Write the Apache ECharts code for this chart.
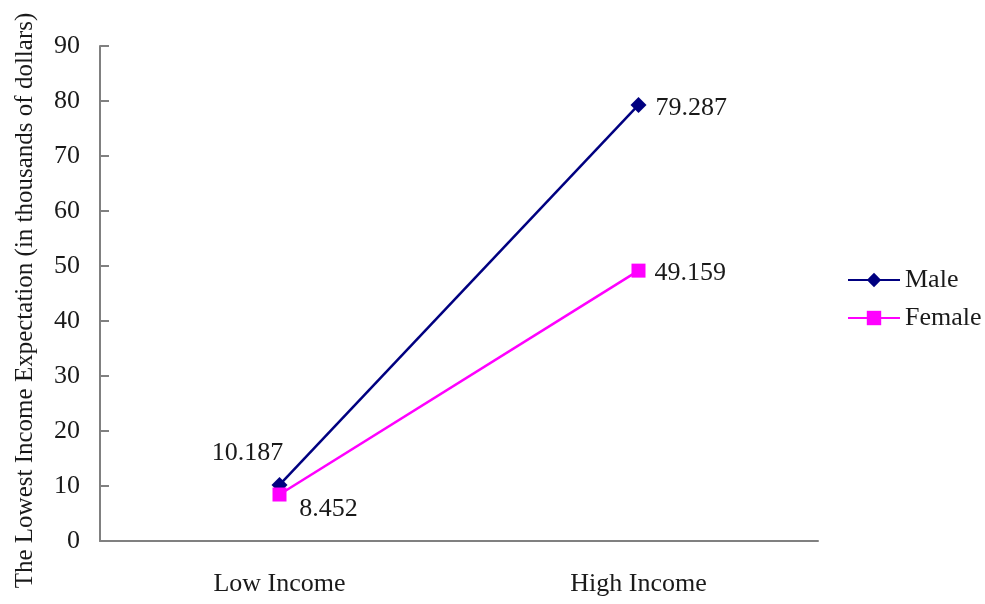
<!DOCTYPE html>
<html>
<head>
<meta charset="utf-8">
<script src="https://cdn.jsdelivr.net/npm/echarts@6/dist/echarts.min.js"></script>
<style>html,body{margin:0;padding:0;background:#fff;}#c{width:985px;height:604px;}</style>
</head>
<body>
<div id="c"></div>
<script>
const categories = ['Low Income', 'High Income'];
const maleValues = [10.187, 79.287];
const femaleValues = [8.452, 49.159];
const seriesNames = ['Male', 'Female'];
const yAxisTitle = 'The Lowest Income Expectation (in thousands of dollars)';

const FONT = 'Liberation Serif';
const TXT = '#1a1a1a';
const AX = '#808080';
const FS = 26;

const chart = echarts.init(document.getElementById('c'));
chart.setOption({
  backgroundColor: '#fff',
  animation: false,
  textStyle: { fontFamily: FONT, color: TXT },
  grid: { left: 100, right: 167, top: 46, bottom: 63, containLabel: false, outerBoundsMode: 'none' },
  legend: {
    orient: 'vertical', left: 842, top: 262,
    itemWidth: 52, itemHeight: 18, itemGap: 12,
    textStyle: { fontFamily: FONT, fontSize: FS, color: TXT },
    data: seriesNames
  },
  xAxis: {
    type: 'category', data: categories, boundaryGap: true,
    axisLine: { lineStyle: { color: AX, width: 2 } },
    axisTick: { inside: true, length: 9, lineStyle: { color: AX, width: 2 } },
    axisLabel: { fontFamily: FONT, fontSize: FS, color: TXT, margin: 30 },
    splitLine: { show: false }
  },
  yAxis: {
    type: 'value', min: 0, max: 90, interval: 10,
    name: yAxisTitle, nameLocation: 'middle', nameGap: 62, nameRotate: 90,
    nameTextStyle: { fontFamily: FONT, fontSize: 25, color: TXT, padding: [0, 14, 0, 0] },
    axisLine: { show: true, lineStyle: { color: AX, width: 2 } },
    axisTick: { show: true, inside: true, length: 9, lineStyle: { color: AX, width: 2 } },
    axisLabel: { fontFamily: FONT, fontSize: FS, color: TXT, margin: 20 },
    splitLine: { show: false }
  },
  series: [
    {
      name: seriesNames[0], type: 'line', data: maleValues.map((v, i) => ({
        value: v,
        label: i === 0 ? { position: 'top', offset: [-32, -6] } : { position: 'right', distance: 9, offset: [0, 3] }
      })),
      symbol: 'diamond', symbolSize: 16,
      lineStyle: { color: '#000080', width: 2.5 },
      itemStyle: { color: '#000080' },
      label: { show: true, fontFamily: FONT, fontSize: FS, color: TXT, formatter: p => p.value.toFixed(3) }
    },
    {
      name: seriesNames[1], type: 'line', data: femaleValues.map((v, i) => ({
        value: v,
        label: i === 0 ? { position: 'bottom', offset: [49, -10] } : { position: 'right', distance: 9, offset: [0, 3] }
      })),
      symbol: 'rect', symbolSize: 14,
      lineStyle: { color: '#FF00FF', width: 2.5 },
      itemStyle: { color: '#FF00FF' },
      label: { show: true, fontFamily: FONT, fontSize: FS, color: TXT, formatter: p => p.value.toFixed(3) }
    }
  ]
});
</script>
</body>
</html>
